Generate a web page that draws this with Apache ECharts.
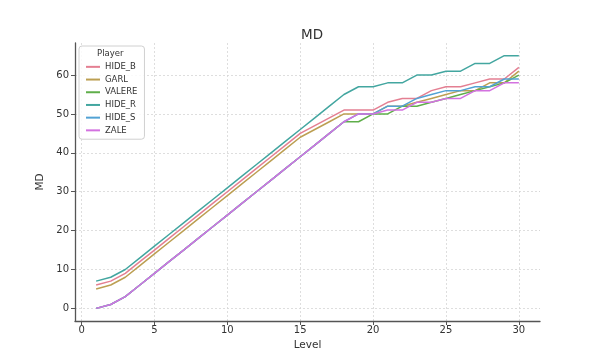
<!DOCTYPE html>
<html><head><meta charset="utf-8">
<script src="https://cdn.jsdelivr.net/npm/echarts@6/dist/echarts.min.js"></script>
<style>html,body{margin:0;padding:0;background:#fff}#c{width:600px;height:360px}</style>
</head><body><div id="c"></div>
<script>
const levels = [1,2,3,4,5,6,7,8,9,10,11,12,13,14,15,16,17,18,19,20,21,22,23,24,25,26,27,28,29,30];
const seriesNames = ['HIDE_B','GARL','VALERE','HIDE_R','HIDE_S','ZALE'];
const hideB  = [6,7,9,12,15,18,21,24,27,30,33,36,39,42,45,47,49,51,51,51,53,54,54,56,57,57,58,59,59,62];
const garl   = [5,6,8,11,14,17,20,23,26,29,32,35,38,41,44,46,48,50,50,50,52,52,53,54,55,56,56,58,58,61];
const valere = [0,1,3,6,9,12,15,18,21,24,27,30,33,36,39,42,45,48,48,50,50,52,52,53,54,55,56,57,58,60];
const hideR  = [7,8,10,13,16,19,22,25,28,31,34,37,40,43,46,49,52,55,57,57,58,58,60,60,61,61,63,63,65,65];
const hideS  = [0,1,3,6,9,12,15,18,21,24,27,30,33,36,39,42,45,48,50,50,52,52,54,55,56,56,57,57,59,59];
const zale   = [0,1,3,6,9,12,15,18,21,24,27,30,33,36,39,42,45,48,50,50,51,51,53,53,54,54,56,56,58,58];
const xTicks = [0,5,10,15,20,25,30];
const yTicks = [0,10,20,30,40,50,60];
const titleText = 'MD';
const xName = 'Level';
const yName = 'MD';
const legendTitle = 'Player';

const allValues = [hideB, garl, valere, hideR, hideS, zale];
const colors = ['#e47f92','#bc9f52','#5fae4a','#43a6a0','#52a2d4','#d372e0'];
const FONT = 'DejaVu Sans';

const chart = echarts.init(document.getElementById('c'), null, {renderer:'canvas'});
const series = seriesNames.map((n,i)=>({
  name:n, type:'line', symbol:'none', animation:false,
  data: levels.map((l,j)=>[l, allValues[i][j]]),
  lineStyle:{color:colors[i], width:1.5},
  itemStyle:{color:colors[i]}
}));
chart.setOption({
  backgroundColor:'#fff',
  animation:false,
  title:{text:titleText, left:307, top:23, textAlign:'center',
    textStyle:{fontFamily:FONT, fontSize:13.5, fontWeight:'normal', color:'#333'}},
  grid:{left:75, right:60, top:43, bottom:39, containLabel:false},
  xAxis:{type:'value', min:-0.45, max:31.45,
    name:xName, nameLocation:'middle', nameGap:17,
    nameTextStyle:{fontFamily:FONT, fontSize:10.5, color:'#333'},
    axisLine:{show:true, onZero:false, lineStyle:{color:'#555', width:1.3}},
    axisTick:{show:true, length:4, customValues:xTicks, lineStyle:{color:'#555'}},
    axisLabel:{customValues:xTicks, fontFamily:FONT, fontSize:10, color:'#333', margin:4},
    splitLine:{show:true, lineStyle:{color:'#d6d6d6', type:[2,2], width:0.8}}},
  yAxis:{type:'value', min:-3.25, max:68.25,
    name:yName, nameLocation:'middle', nameGap:20, nameRotate:90,
    nameTextStyle:{fontFamily:FONT, fontSize:10.5, color:'#333'},
    axisLine:{show:true, onZero:false, lineStyle:{color:'#555', width:1.3}},
    axisTick:{show:true, length:4, customValues:yTicks, lineStyle:{color:'#555'}},
    axisLabel:{customValues:yTicks, fontFamily:FONT, fontSize:10, color:'#333', margin:6},
    splitLine:{show:true, lineStyle:{color:'#d6d6d6', type:[2,2], width:0.8}}},
  legend:{orient:'vertical', left:79, top:46, data:seriesNames, z:10,
    backgroundColor:'rgba(255,255,255,0.85)', borderColor:'#d0d0d0', borderWidth:1, borderRadius:3,
    padding:[16,7,4,7], itemGap:3, itemWidth:14, itemHeight:2, icon:'rect',
    textStyle:{fontFamily:FONT, fontSize:8.5, color:'#333', lineHeight:9.7}},
  graphic:[{type:'text', left:97, top:49, z:100, zlevel:0,
    style:{text:legendTitle, font:'8.5px "DejaVu Sans"', fill:'#333'}}],
  series
});
</script></body></html>
